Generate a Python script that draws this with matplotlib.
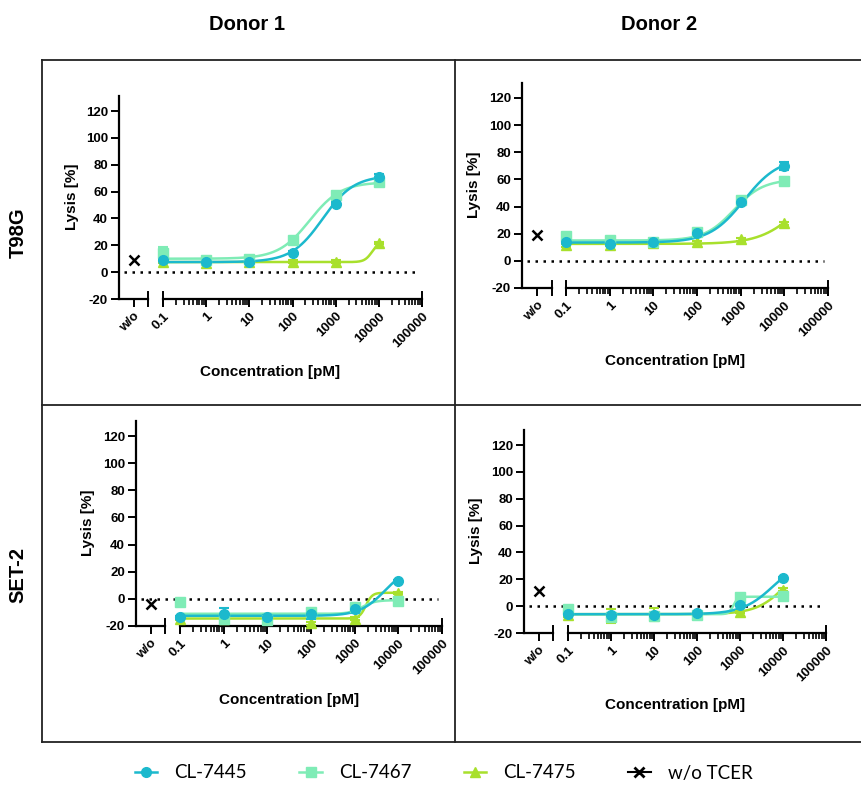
import matplotlib
matplotlib.use("Agg")
import matplotlib.pyplot as plt
from matplotlib.lines import Line2D
from matplotlib.ticker import LogLocator, NullFormatter, FixedLocator
import numpy as np

# concentrations and labels
conc = [0.1, 1, 10, 100, 1000, 10000]
xtick_vals = [0.1, 1, 10, 100, 1000, 10000, 100000]
xtick_labels = ["0.1", "1", "10", "100", "1000", "10000", "100000"]
ytick_vals = [-20, 0, 20, 40, 60, 80, 100, 120]

compounds = ["CL-7445", "CL-7467", "CL-7475"]
colors = {"CL-7445": "#1cb9cd", "CL-7467": "#7fecb6", "CL-7475": "#a8e02c"}
markers = {"CL-7445": "o", "CL-7467": "s", "CL-7475": "^"}

# lysis means (T98G donor 1, T98G donor 2, SET-2 donor 1, SET-2 donor 2)
t98g_d1 = {"CL-7445": [9.4, 7.4, 7.2, 14.6, 51, 71],
           "CL-7467": [14.4, 9, 10, 23.6, 57.6, 67],
           "CL-7475": [7.7, 7, 7.4, 7.7, 7.7, 21.6]}
t98g_d2 = {"CL-7445": [13.8, 12.4, 13.8, 20.3, 43, 69.7],
           "CL-7467": [18.3, 15.1, 14.1, 21.5, 45, 58.6],
           "CL-7475": [11.4, 11.9, 12.9, 13.6, 15.8, 27.6]}
set2_d1 = {"CL-7445": [-13.5, -11.5, -13, -11.5, -7.6, 12.8],
           "CL-7467": [-2, -14.5, -15.7, -9.6, -5.9, -1.5],
           "CL-7475": [-14.7, -15, -15, -18, -14.7, 4.4]}
set2_d2 = {"CL-7445": [-5.6, -6.3, -6.8, -5.3, 0.9, 21],
           "CL-7467": [-2.4, -8, -7.3, -6.3, 7, 7.3],
           "CL-7475": [-6.8, -7.3, -6.3, -5.8, -4.4, 12.3]}

# error bars (SD)
t98g_d1_err = {"CL-7445": [1, 1, 1, 1, 1, 2], "CL-7467": [4, 1, 1, 1, 1, 1.5], "CL-7475": [1, 1, 1, 1, 1, 1]}
t98g_d2_err = {"CL-7445": [1, 1, 1, 1, 1, 3], "CL-7467": [1, 1, 1, 1, 1, 3], "CL-7475": [1, 1, 1, 1, 1, 1]}
set2_d1_err = {"CL-7445": [1, 5, 1, 3, 3, 1], "CL-7467": [1, 1, 1, 1, 1, 1], "CL-7475": [1, 1, 1, 1, 1, 1]}
set2_d2_err = {"CL-7445": [1, 1, 1, 1, 1, 1], "CL-7467": [1, 1, 1, 1, 1, 1], "CL-7475": [1, 5, 5, 1, 1, 1]}

# 4PL fit parameters: bottom, top, EC50, hill
t98g_d1_fit = {"CL-7445": [7.5, 72, 500, 1.2], "CL-7467": [10, 67, 250, 1.2], "CL-7475": [7.5, 23, 7000, 5]}
t98g_d2_fit = {"CL-7445": [13.5, 76, 1200, 1.1], "CL-7467": [15, 60, 700, 1.3], "CL-7475": [12.5, 60, 20000, 1]}
set2_d1_fit = {"CL-7445": [-12.5, 25, 5000, 1.5], "CL-7467": [-11, -1, 1500, 3], "CL-7475": [-14.5, 4.5, 1800, 6]}
set2_d2_fit = {"CL-7445": [-6, 36, 6000, 1.2], "CL-7467": [-6, 7, 700, 8], "CL-7475": [-6, 45, 15000, 1.2]}

# w/o TCER
wo_values = [9.4, 19, -3.7, 11.3]

W, H = 861, 785
fig = plt.figure(figsize=(W / 100, H / 100), dpi=100)

tick_font = dict(family="Liberation Sans", weight="bold", size=9.5)
label_font = dict(family="Liberation Sans", weight="bold", size=11)
title_font = dict(family=["Liberation Sans Narrow", "Liberation Sans"], weight="bold", size=14.5)


def add_px_axes(left, right, top, bottom):
    return fig.add_axes([left / W, 1 - bottom / H, (right - left) / W, (bottom - top) / H])


def four_pl(x, p):
    bottom, top, ec50, hill = p
    return bottom + (top - bottom) / (1 + (ec50 / x) ** hill)


def draw_panel(geom, means, errs, fits, wo_val):
    x0, wo_end, log0, log1, y_m20, y_120 = geom
    y_top = y_m20 - (y_m20 - y_120) * 151 / 140
    ax_wo = add_px_axes(x0, wo_end, y_top, y_m20)
    ax = add_px_axes(log0, log1, y_top, y_m20)

    for a in (ax_wo, ax):
        a.set_ylim(-20, 131)
        a.patch.set_alpha(0)
        for s in ("top", "right"):
            a.spines[s].set_visible(False)
        for s in ("left", "bottom"):
            a.spines[s].set_linewidth(1.6)
        a.tick_params(axis="both", which="major", length=6, width=1.4, direction="out", pad=2)
        a.tick_params(axis="x", which="minor", length=4, width=1.2, direction="out")

    # w/o part with the y axis
    ax_wo.set_xlim(-0.5, 0.5)
    ax_wo.set_xticks([0])
    ax_wo.set_xticklabels(["w/o"], rotation=45, ha="right", rotation_mode="anchor", **tick_font)
    ax_wo.set_yticks(ytick_vals)
    ax_wo.set_yticklabels([str(v) for v in ytick_vals], **tick_font)
    ax_wo.plot([0.5, 0.5], [-0.035, 0.035], transform=ax_wo.get_xaxis_transform(),
               color="black", lw=1.4, clip_on=False)
    ax_wo.plot([0], [wo_val], marker="x", color="black", ms=6.5, mew=1.8, ls="none", zorder=5)

    # log concentration part
    ax.spines["left"].set_visible(False)
    ax.set_xscale("log")
    ax.set_xlim(0.1, 100000)
    ax.xaxis.set_major_locator(FixedLocator(xtick_vals))
    ax.xaxis.set_minor_locator(LogLocator(base=10, subs=np.arange(2, 10)))
    ax.xaxis.set_minor_formatter(NullFormatter())
    ax.set_xticklabels(xtick_labels, rotation=45, ha="right", rotation_mode="anchor", **tick_font)
    ax.set_yticks([])
    for xv in (0.1, 100000):
        ax.plot([xv, xv], [-0.035, 0.035], transform=ax.get_xaxis_transform(),
                color="black", lw=1.4, clip_on=False)
    ax.axhline(0, xmin=-(log0 - x0 - 5) / (log1 - log0), xmax=0.985, color="black",
               ls=(0, (1, 2.2)), lw=1.8, clip_on=False, zorder=1)

    xs = np.logspace(-1, 4, 300)
    for c in ["CL-7475", "CL-7467", "CL-7445"]:
        ax.plot(xs, four_pl(xs, fits[c]), color=colors[c], lw=1.8, zorder=3, clip_on=False)
        ax.errorbar(conc, means[c], yerr=errs[c], fmt=markers[c], color=colors[c], ms=7,
                    ecolor=colors[c], elinewidth=1.5, capsize=3.5, capthick=1.5, zorder=4,
                    clip_on=False)
    return ax_wo, ax


panels = [
    ((119, 148, 163, 422, 299, 111), t98g_d1, t98g_d1_err, t98g_d1_fit, wo_values[0]),
    ((522, 552, 566, 828, 288, 98), t98g_d2, t98g_d2_err, t98g_d2_fit, wo_values[1]),
    ((136, 165, 180, 442, 626, 436), set2_d1, set2_d1_err, set2_d1_fit, wo_values[2]),
    ((524, 553, 568, 826, 633, 445), set2_d2, set2_d2_err, set2_d2_fit, wo_values[3]),
]
xlabel_y = [372, 361, 700, 705]
ylabel_x = [72, 474, 88, 476]

for i, (geom, m, e, f, wo) in enumerate(panels):
    draw_panel(geom, m, e, f, wo)
    x0, wo_end, log0, log1, y_m20, y_120 = geom
    fig.text((x0 + log1) / 2 / W, 1 - xlabel_y[i] / H, "Concentration [pM]", ha="center",
             va="center", **label_font)
    fig.text(ylabel_x[i] / W, 1 - ((y_m20 + y_120) / 2 - 8) / H, "Lysis [%]", ha="center",
             va="center", rotation=90, **label_font)

# grid frame
frame = dict(color="#222222", lw=1.3, transform=fig.transFigure)
fig.add_artist(Line2D([42 / W, 1], [1 - 60 / H, 1 - 60 / H], **frame))
fig.add_artist(Line2D([42 / W, 1], [1 - 405 / H, 1 - 405 / H], **frame))
fig.add_artist(Line2D([42 / W, 1], [1 - 742 / H, 1 - 742 / H], **frame))
fig.add_artist(Line2D([42 / W, 42 / W], [1 - 60 / H, 1 - 742 / H], **frame))
fig.add_artist(Line2D([455 / W, 455 / W], [1 - 60 / H, 1 - 742 / H], **frame))

# column and row titles
fig.text(247 / W, 1 - 25 / H, "Donor 1", ha="center", va="center", **title_font)
fig.text(659 / W, 1 - 25 / H, "Donor 2", ha="center", va="center", **title_font)
fig.text(18 / W, 1 - 233 / H, "T98G", ha="center", va="center", rotation=90, **title_font)
fig.text(18 / W, 1 - 575 / H, "SET-2", ha="center", va="center", rotation=90, **title_font)

handles = [Line2D([], [], color=colors[c], marker=markers[c], ms=7, lw=1.8) for c in compounds]
handles.append(Line2D([], [], color="black", marker="x", ms=7, mew=2, lw=1.5))
labels = compounds + ["w/o TCER"]
fig.legend(handles, labels, loc="center", bbox_to_anchor=(0.5 + 13 / W, 1 - 773 / H), ncol=4,
           frameon=False, prop=dict(family="Lato", size=13.5), handlelength=1.2,
           columnspacing=2.8, handletextpad=0.9)

fig.savefig("out.png", dpi=100)
